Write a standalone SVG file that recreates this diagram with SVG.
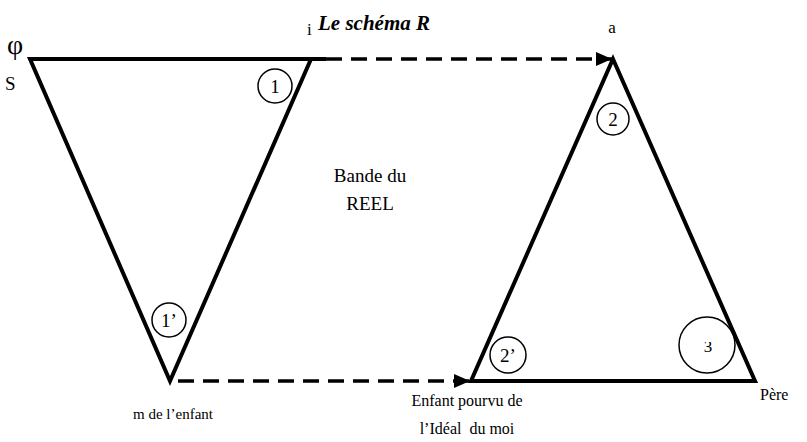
<svg xmlns="http://www.w3.org/2000/svg" width="807" height="442" viewBox="0 0 807 442">
<style>
.tri{fill:none;stroke:#000;stroke-width:4;stroke-linejoin:miter}
.c{fill:none;stroke:#000;stroke-width:1.5}
text{font-family:'Liberation Serif','DejaVu Serif',serif;fill:#000}
.dash{stroke:#000;stroke-width:3.5;stroke-dasharray:16 9;fill:none}
</style>
<defs>
<marker id="ah2" markerWidth="16" markerHeight="14" refX="16" refY="7" orient="auto" markerUnits="userSpaceOnUse">
<path d="M0,0 L16,7 L0,14 z" fill="#000"/>
</marker>
<clipPath id="clip3"><rect x="690" y="342" width="40" height="30"/></clipPath>
</defs>
<text x="318" y="30" font-size="21" font-weight="bold" font-style="italic">Le schéma R</text>
<g id="left-triangle">
<path class="tri" d="M30,59 L311,59 L170,381 Z"/>
<line x1="311" y1="59" x2="326" y2="59" stroke="#000" stroke-width="4"/>
<text x="7" y="54" font-size="28">φ</text>
<text x="5" y="90" font-size="19">S</text>
<text x="307" y="35" font-size="17">i</text>
<text x="133" y="419" font-size="15">m de l’enfant</text>
</g>
<g id="circle-1">
<circle class="c" cx="275" cy="86" r="17"/>
<text x="275" y="93" font-size="19" text-anchor="middle">1</text>
</g>
<g id="circle-1p">
<circle class="c" cx="169" cy="320" r="17"/>
<text x="169" y="327" font-size="19" text-anchor="middle">1’</text>
</g>
<g id="right-triangle">
<path class="tri" d="M613,59 L755,381 L471,381 Z"/>
<text x="612" y="33" font-size="17" text-anchor="middle">a</text>
<text x="760" y="400" font-size="16">Père</text>
<text x="467" y="406" font-size="16" text-anchor="middle">Enfant pourvu de</text>
<text x="467" y="434" font-size="16" text-anchor="middle" xml:space="preserve">l’Idéal  du moi</text>
</g>
<g id="circle-2">
<circle class="c" cx="613" cy="119" r="16"/>
<text x="613" y="126" font-size="19" text-anchor="middle">2</text>
</g>
<g id="circle-2p">
<circle class="c" cx="508" cy="355" r="18"/>
<text x="508" y="362" font-size="19" text-anchor="middle">2’</text>
</g>
<g id="circle-3">
<circle class="c" cx="707" cy="345" r="28"/>
<text x="708" y="352" font-size="17" text-anchor="middle" clip-path="url(#clip3)">3</text>
</g>
<g id="label-reel">
<text x="370" y="182" font-size="19" text-anchor="middle">Bande du</text>
<text x="370" y="210" font-size="19" text-anchor="middle">REEL</text>
</g>
<g id="connectors">
<line class="dash" x1="326" y1="59" x2="612" y2="59" marker-end="url(#ah2)"/>
<line class="dash" x1="178" y1="381" x2="470" y2="381" marker-end="url(#ah2)"/>
</g>
</svg>
